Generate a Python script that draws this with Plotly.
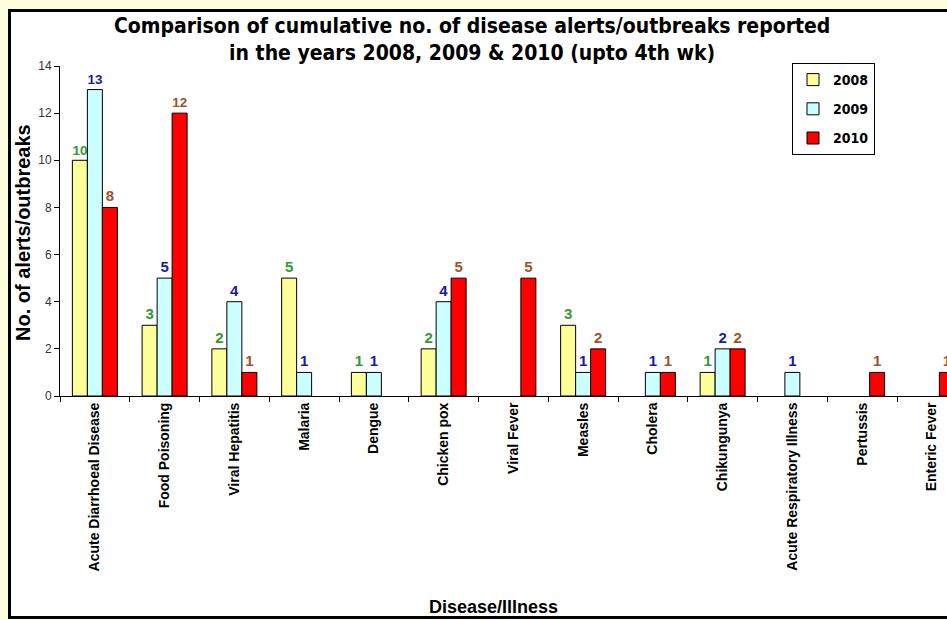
import plotly.graph_objects as go

categories = ["Acute Diarrhoeal Disease", "Food Poisoning", "Viral Hepatitis", "Malaria",
              "Dengue", "Chicken pox", "Viral Fever", "Measles", "Cholera", "Chikungunya",
              "Acute Respiratory Illness", "Pertussis", "Enteric Fever"]
y2008 = [10, 3, 2, 5, 1, 2, 0, 3, 0, 1, 0, 0, 0]
y2009 = [13, 5, 4, 1, 1, 4, 0, 1, 1, 2, 1, 0, 0]
y2010 = [8, 12, 1, 0, 0, 5, 5, 2, 1, 2, 0, 1, 1]
years = ["2008", "2009", "2010"]
y_ticks = [0, 2, 4, 6, 8, 10, 12, 14]

W, H = 947, 620
L, R, T, B = 60, 0, 66, 224
PW, PH = W - L - R, H - T - B

def px(x):
    return (x - L) / PW

def py(y):
    return 1 - (y - T) / PH

bar_colors = ["#FFFF99", "#CCFFFF", "#FF0000"]
text_colors = ["#339933", "#1A1AA6", "#A0522D"]
base_font = "Liberation Sans, Arial, sans-serif"
narrow_font = "Liberation Sans Narrow, Arial Narrow, DejaVu Sans Condensed, Liberation Sans, sans-serif"

fig = go.Figure()
for name, vals, bc, tc in zip(years, [y2008, y2009, y2010], bar_colors, text_colors):
    fig.add_trace(go.Bar(
        name=name, x=categories, y=[v if v else None for v in vals],
        marker=dict(color=bc, line=dict(color="black", width=1)),
        text=[str(v) if v else "" for v in vals],
        textposition="outside",
        textfont=dict(color=tc, size=15, family=base_font, weight="bold"),
        cliponaxis=False,
        legendgroup=name,
    ))

cat_w = 69.75
xmax = -0.5 + PW / cat_w

fig.update_layout(
    width=W, height=H,
    margin=dict(l=L, r=R, t=T, b=B),
    paper_bgcolor="#FFFFDD",
    plot_bgcolor="white",
    barmode="group",
    bargap=0.355,
    bargroupgap=0,
    showlegend=True,
    legend=dict(
        x=px(792), y=py(63), xanchor="left", yanchor="top",
        bgcolor="white", bordercolor="black", borderwidth=1,
        font=dict(family=narrow_font, size=14, color="black", weight="bold"),
        tracegroupgap=8,
        itemwidth=30,
    ),
    xaxis=dict(
        range=[-0.5, xmax],
        showline=True, linecolor="black", linewidth=1,
        ticks="outside", tickson="boundaries", ticklen=5, tickcolor="black",
        tickangle=-90,
        tickfont=dict(family=base_font, size=14, color="black", weight="bold"),
        showgrid=False,
    ),
    yaxis=dict(
        range=[0, 14], tickvals=y_ticks,
        showline=True, linecolor="black", linewidth=1,
        ticks="outside", ticklen=5, tickcolor="black",
        tickfont=dict(family=base_font, size=12, color="#333333"),
        showgrid=False, zeroline=False,
    ),
    shapes=[dict(
        type="rect", xref="paper", yref="paper",
        x0=px(9.5), x1=px(960), y0=py(617.5), y1=py(10.5),
        line=dict(color="black", width=3), fillcolor="white", layer="below",
    )],
    annotations=[
        dict(text="Comparison of cumulative no. of disease alerts/outbreaks reported<br>in the years 2008, 2009 & 2010 (upto 4th wk)",
             x=px(472), y=py(40), xref="paper", yref="paper", showarrow=False,
             xanchor="center", yanchor="middle",
             font=dict(family=narrow_font, size=21, color="black", weight="bold")),
        dict(text="No. of alerts/outbreaks", textangle=-90,
             x=px(23), y=py(233), xref="paper", yref="paper", showarrow=False,
             xanchor="center", yanchor="middle",
             font=dict(family=base_font, size=20, color="black", weight="bold")),
        dict(text="Disease/Illness",
             x=px(493), y=py(607), xref="paper", yref="paper", showarrow=False,
             xanchor="center", yanchor="middle",
             font=dict(family=base_font, size=18, color="black", weight="bold")),
    ],
)

fig.write_html("out.html",
               config={"displayModeBar": False},
               post_script="document.body.style.margin='0';document.body.style.background='#FFFFDD';")
